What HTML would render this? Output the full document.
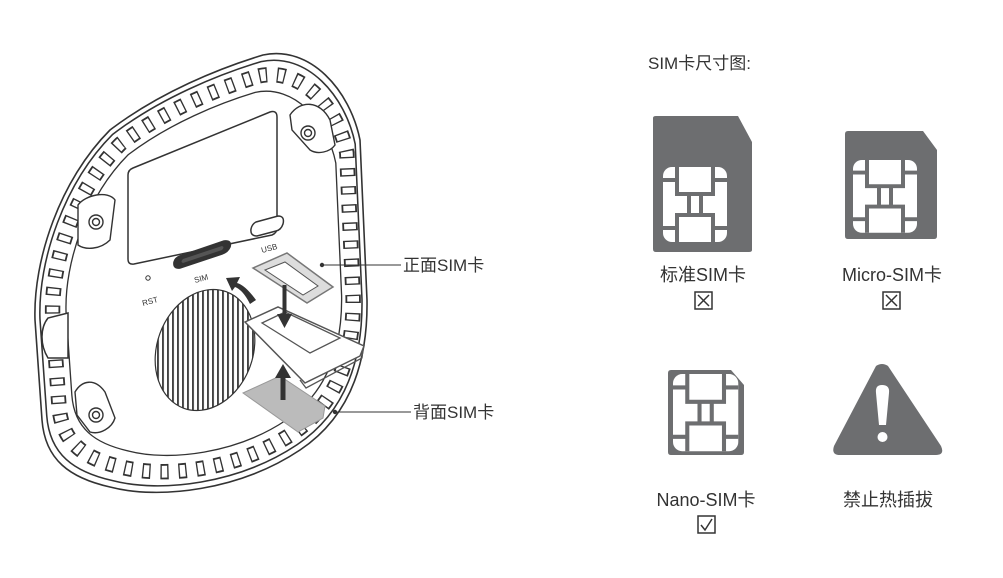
<!DOCTYPE html>
<html><head><meta charset="utf-8"><style>
html,body{margin:0;padding:0;background:#fff;}
svg{display:block;}
text{font-family:"Liberation Sans","Noto Sans CJK SC",sans-serif;}
</style></head><body>
<svg width="1003" height="578" viewBox="0 0 1003 578" xmlns="http://www.w3.org/2000/svg">
<defs>
<path id="ring" d="M263,55 C310,45 350,90 360,140 L367,300 C368,370 345,420 300,450 C240,490 160,500 110,487 C70,478 45,460 42,420 L35,320 C33,260 60,180 110,130 C160,92 220,68 263,55 Z"/>
<pattern id="hatch" width="5" height="10" patternUnits="userSpaceOnUse" patternTransform="rotate(-20)">
<rect width="5" height="10" fill="#fff"/><rect x="0" width="1.8" height="10" fill="#333"/>
</pattern>
<g id="chip">
<rect x="0" y="0" width="64" height="75" rx="9" fill="#fff"/>
<g stroke="#6d6e70" stroke-width="4" fill="none">
<path d="M14,0 V27 H50 V0"/><path d="M0,13 H14 M50,13 H64"/>
<path d="M26,27 V48 M38,27 V48"/>
<path d="M14,75 V48 H50 V75"/><path d="M0,61 H14 M50,61 H64"/>
</g>
</g>
</defs>

<!-- device -->
<g fill="none" stroke="#333" stroke-width="1.6">
<use href="#ring"/>
<use href="#ring" transform="translate(200,275) scale(0.97) translate(-200,-275)"/>
<use href="#ring" transform="translate(203,275) scale(0.83) translate(-200,-275)"/>
</g>
<g transform="translate(202,275) scale(0.905) translate(-200,-275)">
<use href="#ring" fill="none" stroke="#333" stroke-width="17" stroke-dasharray="9 11"/>
<use href="#ring" fill="none" stroke="#fff" stroke-width="13" stroke-dasharray="6 14" stroke-dashoffset="-1.5"/>
</g>
<!-- side bump -->
<path d="M68,313 L68,358 L48,358 C40,345 40,328 48,318 Z" fill="#fff" stroke="#333" stroke-width="1.5"/>
<!-- screw pads -->
<g fill="#fff" stroke="#333" stroke-width="1.4">
<path d="M290,115 C300,100 320,100 330,120 L335,145 C330,152 318,155 310,150 L292,130 Z"/>
<circle cx="308" cy="133" r="7"/><circle cx="308" cy="133" r="3.5"/>
<path d="M78,205 C85,195 108,190 115,200 L110,240 C100,250 85,250 78,245 Z"/>
<circle cx="96" cy="222" r="7"/><circle cx="96" cy="222" r="3.5"/>
<path d="M75,392 C82,380 95,378 105,392 L115,418 C112,428 100,435 90,432 L77,415 Z"/>
<circle cx="96" cy="415" r="7"/><circle cx="96" cy="415" r="3.5"/>
</g>
<!-- window -->
<path d="M133,168 L270,112 Q277,110 277,117 L277,228 Q277,233 272,235 L134,264 Q128,265 128,259 L128,175 Q128,170 133,168 Z" fill="#fff" stroke="#333" stroke-width="1.5"/>
<!-- usb & sim slot -->
<path d="M256,222 L278,216 Q285,216 283,224 Q281,230 276,231 L257,236 Q250,236 251,229 Q252,224 256,222 Z" fill="#fff" stroke="#333" stroke-width="1.5"/>
<path d="M180,256 L224,241 Q232,240 230,247 Q228,252 222,254 L180,268 Q173,269 174,262 Q175,258 180,256 Z" fill="#333" stroke="#333" stroke-width="1.5"/>
<path d="M183,259 L222,246 Q225,247 222,250 L183,263 Q180,262 183,259 Z" fill="#555"/>
<circle cx="148" cy="278" r="2.2" fill="none" stroke="#333" stroke-width="1"/>
<text x="262" y="253" font-size="8" fill="#333" transform="rotate(-15 262 253)">USB</text>
<text x="195" y="283" font-size="8" fill="#333" transform="rotate(-15 195 283)">SIM</text>
<text x="143" y="306" font-size="8" fill="#333" transform="rotate(-15 143 306)">RST</text>
<!-- hatched ellipse -->
<ellipse cx="205" cy="350" rx="48" ry="62" transform="rotate(20 205 350)" fill="url(#hatch)" stroke="#333" stroke-width="1.2"/>
<!-- tray -->
<path d="M245,322 L278,307 L364,346 L360,356 L305,383 Z" fill="#fff" stroke="#555" stroke-width="1.5"/>
<path d="M262,323 L285,312 L340,338 L310,353 Z" fill="#fff" stroke="#555" stroke-width="1.3"/>
<path d="M300,380 L306,388 L362,358 L363,349" fill="none" stroke="#555" stroke-width="1.3"/>
<!-- top sim -->
<path d="M253,268 L287,253 L333,287 L307,303 Z" fill="#ddd" stroke="#777" stroke-width="1.5"/>
<path d="M265,270 L285,262 L318,286 L303,295 Z" fill="#fff" stroke="#555" stroke-width="1"/>
<!-- bottom sim -->
<path d="M243,393 L280,376 L325,406 L323,418 L298,432 Z" fill="#bbb" stroke="#999" stroke-width="1"/>
<!-- arrows -->
<g fill="#333">
<path d="M256,300 Q245,285 237,283 L240,277 L226,278 L232,291 L235,287 Q243,290 250,304 Z"/>
<rect x="282.5" y="285" width="4" height="32" fill="#333"/>
<path d="M277,314 L292,314 L284.5,328 Z"/>
<rect x="280.5" y="375" width="5" height="25"/>
<path d="M275,378 L291,378 L283,364 Z"/>
</g>
<!-- callouts -->
<circle cx="322" cy="265" r="2.2" fill="#333"/>
<line x1="322" y1="265" x2="401" y2="265" stroke="#333" stroke-width="1"/>
<text x="403" y="271" font-size="17" fill="#333">正面SIM卡</text>
<circle cx="335" cy="412" r="2.2" fill="#333"/>
<line x1="335" y1="412" x2="411" y2="412" stroke="#333" stroke-width="1"/>
<text x="413" y="418" font-size="17" fill="#333">背面SIM卡</text>

<!-- right side -->
<text x="648" y="69" font-size="17" fill="#333">SIM卡尺寸图:</text>
<path d="M653,118 Q653,116 656,116 L738,116 L752,142 L752,250 Q752,252 749,252 L656,252 Q653,252 653,249 Z" fill="#6d6e70"/>
<use href="#chip" transform="translate(663,167)"/>
<text x="703" y="281" font-size="18" fill="#333" text-anchor="middle">标准SIM卡</text>
<rect x="695" y="292" width="17" height="17" fill="none" stroke="#333" stroke-width="1.5"/>
<path d="M698,295 L709,306 M709,295 L698,306" stroke="#333" stroke-width="1.5"/>

<path d="M845,134 Q845,131 848,131 L923,131 L937,150 L937,236 Q937,239 934,239 L848,239 Q845,239 845,236 Z" fill="#6d6e70"/>
<use href="#chip" transform="translate(853,160) scale(1,0.97)"/>
<text x="892" y="281" font-size="18" fill="#333" text-anchor="middle">Micro-SIM卡</text>
<rect x="883" y="292" width="17" height="17" fill="none" stroke="#333" stroke-width="1.5"/>
<path d="M886,295 L897,306 M897,295 L886,306" stroke="#333" stroke-width="1.5"/>

<path d="M668,373 Q668,370 671,370 L731,370 L744,385 L744,452 Q744,455 741,455 L671,455 Q668,455 668,452 Z" fill="#6d6e70"/>
<use href="#chip" transform="translate(673,374) scale(1.02,1.03)"/>
<text x="706" y="506" font-size="18" fill="#333" text-anchor="middle">Nano-SIM卡</text>
<rect x="698" y="516" width="17" height="17" fill="none" stroke="#333" stroke-width="1.5"/>
<path d="M701,525 L705,530 L712,519" fill="none" stroke="#333" stroke-width="1.5"/>

<path d="M888,366 Q882,362 876,366 L834,446 Q831,455 840,455 L936,455 Q945,455 941,446 Z" fill="#6d6e70"/>
<path d="M882,385 Q890,385 889,393 L886,425 L879,425 L876,393 Q875,385 882,385 Z" fill="#fff"/>
<circle cx="882.5" cy="437" r="5" fill="#fff"/>
<text x="888" y="506" font-size="18" fill="#333" text-anchor="middle">禁止热插拔</text>
</svg>
</body></html>
